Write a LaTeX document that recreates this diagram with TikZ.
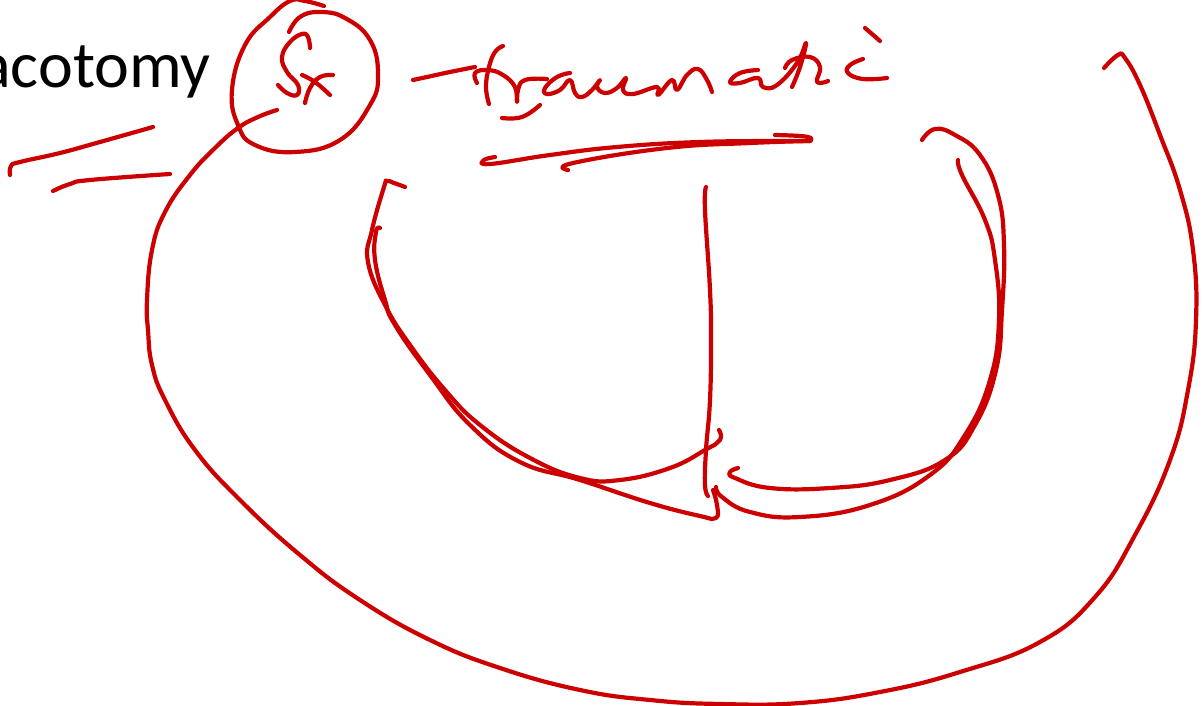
\documentclass[tikz,border=0pt]{standalone}
\usepackage{fontspec}
\setmainfont{Carlito}
\definecolor{inkred}{HTML}{CC0000}
\begin{document}
\begin{tikzpicture}[x=1pt,y=-1pt,pen/.style={draw=inkred,line width=4.2pt,line cap=round,line join=round,tension=.75}]
\useasboundingbox (0,0) rectangle (1204,706);
\node[anchor=base east,inner sep=0pt,font=\fontsize{66}{66}\selectfont] (title) at (211,88) {acotomy};
\draw[pen] plot[smooth] coordinates {(324,6)(305,1)(290,1)(270,17)(245,45)(232,90)(238,125)(255,145)(295,152)(340,140)(370,105)(378,75)(370,40)(345,18)(320,12)(300,17)(289,32)};
\draw[pen] plot[smooth] coordinates {(310,48)(308,37)(302,34)(290,42)(282,57)(287,72)(298,85)(297,95)(287,93)(278,85)};
\draw[pen] plot[smooth] coordinates {(333,75)(320,77)(310,88)(305,103)};
\draw[pen] plot[smooth] coordinates {(302,75)(315,82)(330,95)};
\draw[pen] plot[smooth] coordinates {(277,110)(258,117)(238,128)(215,148)(190,175)(165,212)(152,250)(147,300)(148,330)(152,365)(165,400)(195,450)(240,500)(300,555)(360,600)(430,640)(500,668)(580,690)(650,700)(720,704)(800,703)(880,692)(960,672)(1040,642)(1095,597)(1135,535)(1170,460)(1188,390)(1196,320)(1193,250)(1180,190)(1160,135)(1140,85)(1125,58)(1118,55)(1104,68)};
\draw[pen] plot[smooth] coordinates {(153,127)(100,142)(60,153)(20,162)(11,166)(10,175)};
\draw[pen] plot[smooth] coordinates {(170,174)(90,180)(70,184)(53,191)};
\draw[pen] plot[smooth] coordinates {(413,80)(427,77)(450,72)(475,67)};
\draw[pen] plot[smooth] coordinates {(503,46)(495,52)(489,67)(486,87)(489,104)};
\draw[pen] plot[smooth] coordinates {(477,83)(475,73)(488,70)(503,75)(515,87)(517,102)(518,90)(525,80)(547,79)};
\draw[pen] plot[smooth] coordinates {(502,118)(522,117)(540,105)};
\draw[pen] plot[smooth] coordinates {(570,73)(557,77)(545,88)(547,94)(560,90)(570,80)(575,93)(582,97)(592,90)(600,80)(597,87)(605,93)(617,88)(626,78)(623,90)(633,94)(657,87)(658,95)(672,80)(677,90)(687,75)(698,69)(707,80)(712,92)};
\draw[pen] plot[smooth] coordinates {(758,70)(740,73)(730,82)(740,83)(758,78)(763,87)(777,85)(797,63)(806,43)(800,67)(792,87)};
\draw[pen] plot[smooth] coordinates {(785,68)(792,60)(810,57)(820,67)(817,82)(828,81)};
\draw[pen] plot[smooth] coordinates {(863,59)(850,65)(848,73)(863,79)(887,78)};
\draw[pen] plot[smooth] coordinates {(865,28)(872,34)(880,41)};
\draw[pen] plot[smooth] coordinates {(495,157)(484,160)(490,164)(550,155)(617,147)(700,142)(790,141)(810,141)};
\draw[pen] plot[smooth] coordinates {(810,141)(811,138)(800,136)(775,135)};
\draw[pen] plot[smooth] coordinates {(568,170)(573,163)(667,148)(750,143)(810,141)};
\draw[pen] plot[smooth] coordinates {(405,187)(394,183)(387,181)(384,187)(372,230)(368,262)(385,305)(410,345)(445,390)(480,425)(530,458)(580,478)(620,480)(670,468)(705,450)(720,440)(719,430)};
\draw[pen] plot[smooth] coordinates {(380,228)(376,232)(375,260)(385,300)(395,325)(430,375)(470,425)(520,462)(580,480)(650,503)(700,516)(716,518)(717,505)(713,490)};
\draw[pen] plot[smooth] coordinates {(706,187)(705,210)(710,290)(711,340)(710,400)(706,450)(705,485)(708,496)};
\draw[pen] plot[smooth] coordinates {(922,140)(935,129)(955,135)(980,155)(998,195)(1004,245)(1002,310)(996,370)(975,425)(945,460)(890,480)(830,488)(770,488)(735,478)(730,472)(738,468)};
\draw[pen] plot[smooth] coordinates {(958,160)(962,175)(985,220)(995,260)(999,320)(990,380)(965,435)(930,475)(870,505)(800,517)(750,512)(722,497)(716,487)};
\end{tikzpicture}
\end{document}
